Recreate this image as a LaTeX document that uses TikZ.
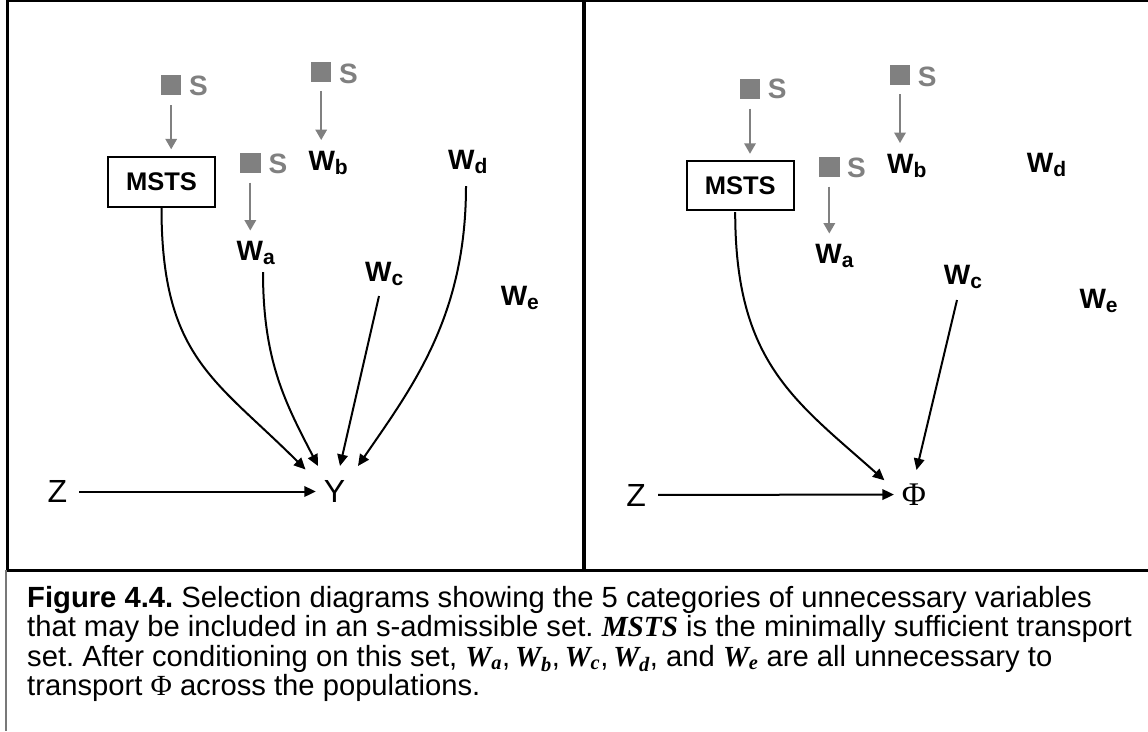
\documentclass[tikz,border=0pt]{standalone}
\usepackage{fontspec}
\setmainfont{Liberation Sans}
\newfontfamily\serifrm{Liberation Serif}
\usetikzlibrary{arrows.meta}
\frenchspacing
\definecolor{sgray}{RGB}{128,128,128}
\definecolor{cgray}{RGB}{120,120,120}
\newcommand\Wlab[1]{{\fontsize{28}{28}\selectfont W}\raisebox{-4pt}{\fontsize{21}{21}\selectfont #1}}
\newcommand\capmi[1]{{\serifrm\bfseries\itshape #1}}
\newcommand\capW[1]{\capmi{W\textsubscript{#1}}}
\tikzset{
  sqr/.style={fill=sgray, minimum width=20.5pt, minimum height=20pt, inner sep=0pt},
  slab/.style={text=sgray, font=\fontsize{28}{28}\selectfont\bfseries, inner sep=0pt, anchor=base west},
  wl/.style={inner sep=0pt, anchor=base west, font=\bfseries},
  mbox/.style={draw, line width=2pt, minimum width=107pt, minimum height=49.4pt, inner sep=0pt,
    font=\fontsize{25.5}{25.5}\selectfont\bfseries},
  zv/.style={inner sep=12pt, font=\fontsize{32}{32}\selectfont},
  yv/.style={inner sep=7.8pt, font=\fontsize{32}{32}\selectfont},
  garr/.style={draw=sgray, line width=1.9pt, -{Triangle[length=10.5pt,width=11.5pt]}},
  barr/.style={draw=black, line width=2pt, -{Triangle[length=11.5pt,width=10.5pt]}},
}
\begin{document}
\begin{tikzpicture}[x=1pt,y=-1pt]
\useasboundingbox (0,0) rectangle (1148,731);
% frame
\draw[line width=2.2pt] (6,1.1) -- (1148,1.1);
\draw[line width=2.5pt] (7.3,0) -- (7.3,570);
\draw[line width=4.3pt] (583.8,0) -- (583.8,570);
\draw[line width=2.4pt] (6,570.5) -- (1148,570.5);
\draw[cgray, line width=1.8pt] (5.7,570) -- (5.7,731);

% ---------- left panel ----------
\node[sqr] (ls1q) at (171.2,85) {};
\node[slab] (ls1) at (189,95) {S};
\node[sqr] (ls2q) at (321.2,71.7) {};
\node[slab] (ls2) at (339,83) {S};
\node[sqr] (ls3q) at (250.3,162.5) {};
\node[slab] (ls3) at (268.3,173.3) {S};
\node[mbox] (lm) at (161.5,182) {MSTS};
\node[wl] (lwa) at (236.5,260) {\Wlab{a}};
\node[wl] (lwb) at (308.3,170) {\Wlab{b}};
\node[wl] (lwc) at (365,281) {\Wlab{c}};
\node[wl] (lwd) at (448,169) {\Wlab{d}};
\node[wl] (lwe) at (500.6,305) {\Wlab{e}};
\node[zv] (lz) at (57.5,491.5) {Z};
\node[yv] (ly) at (334.5,491.5) {Y};

\draw[garr, shorten <=10pt, shorten >=7pt] (ls1q.south) -- (ls1q.south |- lm.north);
\draw[garr, shorten <=9pt, shorten >=10.5pt] (ls2q.south) -- (ls2q.south |- lwb.north);
\draw[garr, shorten <=10pt, shorten >=10pt] (ls3q.south) -- (ls3q.south |- lwa.north);

\draw[barr] (lm.south) .. controls +(0,150) and +(-90,-90) .. ([shift={(-29,-22)}]ly.center);
\draw[barr] ([shift={(26.5,12)}]lwa.base west) .. controls +(0,90) and +(-32,-62) .. ([shift={(-16.5,-25.5)}]ly.center);
\draw[barr] ([shift={(14,15)}]lwc.base west) -- ([shift={(5.5,-25.5)}]ly.center);
\draw[barr] ([shift={(18,17)}]lwd.base west) .. controls +(0,130) and +(55,-80) .. ([shift={(23.5,-25.5)}]ly.center);
\draw[barr] (lz) -- (ly);

% ---------- right panel ----------
\node[sqr] (rs1q) at (750,88.5) {};
\node[slab] (rs1) at (767.7,98.5) {S};
\node[sqr] (rs2q) at (900,75.2) {};
\node[slab] (rs2) at (917.7,86.5) {S};
\node[sqr] (rs3q) at (829.3,166.5) {};
\node[slab] (rs3) at (847,177) {S};
\node[mbox] (rm) at (740.2,185.5) {MSTS};
\node[wl] (rwa) at (815.2,263.5) {\Wlab{a}};
\node[wl] (rwb) at (887,173.5) {\Wlab{b}};
\node[wl] (rwc) at (943.7,284.5) {\Wlab{c}};
\node[wl] (rwd) at (1026.7,172.5) {\Wlab{d}};
\node[wl] (rwe) at (1079.3,308.5) {\Wlab{e}};
\node[zv] (rz) at (636.2,495) {Z};
\node[yv, font=\serifrm\fontsize{33}{33}\selectfont] (rphi) at (914,494.5) {Φ};

\draw[garr, shorten <=10pt, shorten >=6pt] (rs1q.south) -- (rs1q.south |- rm.north);
\draw[garr, shorten <=9pt, shorten >=11pt] (rs2q.south) -- (rs2q.south |- rwb.north);
\draw[garr, shorten <=10pt, shorten >=10.5pt] (rs3q.south) -- (rs3q.south |- rwa.north);

\draw[barr] ([shift={(-5,1)}]rm.south) .. controls +(0,150) and +(-90,-80) .. ([shift={(-29.6,-14.2)}]rphi.center);
\draw[barr] ([shift={(13.3,15.5)}]rwc.base west) -- ([shift={(2.5,-24.5)}]rphi.center);
\draw[barr] (rz) -- (rphi);

% ---------- caption ----------
\node[anchor=base west, align=left, inner sep=0pt, font=\fontsize{29.2}{29.5}\selectfont] (cap) at (27,695.5)
{\textbf{Figure 4.4.} Selection diagrams showing the 5 categories of unnecessary variables\\
that may be included in an s-admissible set. \capmi{MSTS} is the minimally sufficient transport\\
set. After conditioning on this set, \capW{a},\,\capW{b},\,\capW{c},\,\capW{d}, and \capW{e} are all unnecessary to\\
transport {\serifrm Φ} across the populations.};
\end{tikzpicture}
\end{document}
